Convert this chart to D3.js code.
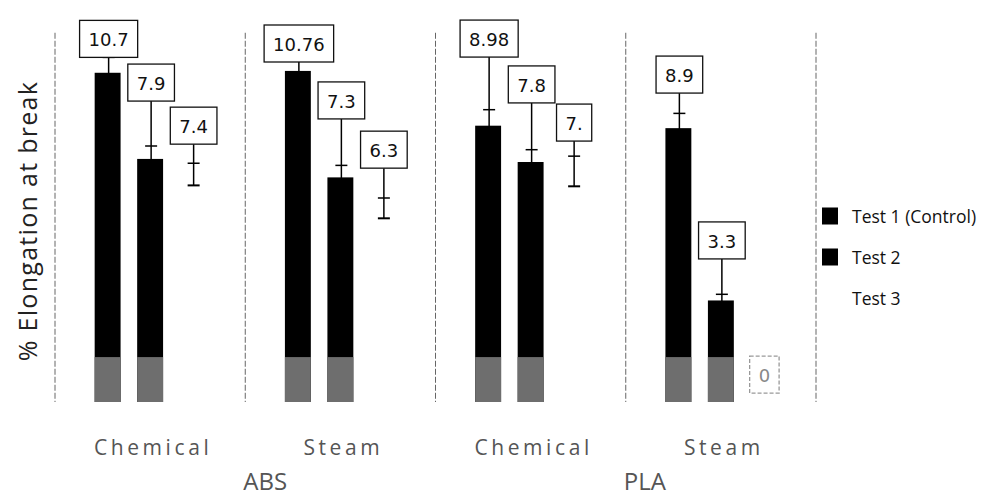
<!DOCTYPE html>
<html>
<head>
<meta charset="utf-8">
<script src="https://cdn.jsdelivr.net/npm/d3@7"></script>
<style>
  html, body { margin: 0; padding: 0; background: #fff; }
  svg { display: block; }
</style>
</head>
<body>
<svg id="chart" width="988" height="496"></svg>
<script>
// ---- data ----
const groups = ["ABS Chemical", "ABS Steam", "PLA Chemical", "PLA Steam"];
const categoryLabels = ["Chemical", "Steam", "Chemical", "Steam"];
const materials = ["ABS", "PLA"];
const materialStart = ["ABS Steam", "PLA Steam"];
const series = ["Test 1 (Control)", "Test 2", "Test 3"];

const test1 = [10.7, 10.76, 8.98, 8.9];
const test2 = [7.9, 7.3, 7.8, 3.3];
const test3 = [7.4, 6.3, 7.5, 0];

const err1 = [0.5, 0.45, 0.52, 0.48];
const err2 = [0.42, 0.39, 0.4, 0.2];
const err3 = [0.36, 0.33, 0.49, 0];

const label1 = ["10.7", "10.76", "8.98", "8.9"];
const label2 = ["7.9", "7.3", "7.8", "3.3"];
const label3 = ["7.4", "6.3", "7.", "0"];

// value-axis height at which each value box sits
const labelAt1 = [11.2, 11.05, 11.21, 10.04];
const labelAt2 = [9.78, 9.2, 9.72, 4.65];
const labelAt3 = [8.38, 7.6, 8.48, 0.29];

const baseBand = 1.46; // grey base portion of the bars (value units)

// ---- build table ----
const values = [test1, test2, test3];
const errs = [err1, err2, err3];
const labels = [label1, label2, label3];
const labelAts = [labelAt1, labelAt2, labelAt3];
const rows = [];
groups.forEach((g, gi) => {
  series.forEach((s, si) => {
    rows.push({ group: g, series: s, value: values[si][gi], err: errs[si][gi],
                label: labels[si][gi], labelAt: labelAts[si][gi] });
  });
});

const barColor = d3.scaleOrdinal().domain(series).range(["#000000", "#000000", "#ffffff"]);
const baseColor = d3.scaleOrdinal().domain(series).range(["#6e6e6e", "#6e6e6e", "#ffffff"]);

const svg = d3.select("#chart");

const x0 = d3.scaleBand().domain(groups).range([55, 816]).padding(0);
const half = 63.75;
const x1 = d3.scaleBand().domain(series)
  .range([x0.bandwidth() / 2 - half, x0.bandwidth() / 2 + half])
  .paddingInner(0.39).paddingOuter(0.195);
const y = d3.scaleLinear().domain([0, 13]).range([402, 2]);

// dividers
const divX = groups.map(g => x0(g)).concat([x0.range()[1]]);
svg.append("g").selectAll("line").data(divX).join("line")
  .attr("x1", d => d).attr("x2", d => d)
  .attr("y1", y(12.0)).attr("y2", y(0))
  .attr("stroke", "#666").attr("stroke-width", 1)
  .attr("stroke-dasharray", "6,2");

const cx = d => x0(d.group) + x1(d.series) + x1.bandwidth() / 2;

// bars
const gBars = svg.append("g");
gBars.selectAll("rect.bar").data(rows).join("rect").attr("class", "bar")
  .attr("x", d => x0(d.group) + x1(d.series))
  .attr("width", x1.bandwidth())
  .attr("y", d => y(d.value))
  .attr("height", d => y(0) - y(d.value))
  .attr("fill", d => barColor(d.series));
gBars.selectAll("rect.base").data(rows.filter(d => d.value > 0)).join("rect").attr("class", "base")
  .attr("x", d => x0(d.group) + x1(d.series))
  .attr("width", x1.bandwidth())
  .attr("y", d => y(Math.min(baseBand, d.value)))
  .attr("height", d => y(0) - y(Math.min(baseBand, d.value)))
  .attr("fill", d => baseColor(d.series));

// error bars + leader lines
const gErr = svg.append("g").attr("stroke", "#000").attr("stroke-width", 1.5);
const withErr = rows.filter(d => d.err > 0);
gErr.selectAll("line.v").data(withErr).join("line").attr("class", "v")
  .attr("x1", d => cx(d) + 1).attr("x2", d => cx(d) + 1)
  .attr("y1", d => y(d.labelAt)).attr("y2", d => y(d.value - d.err));
gErr.selectAll("line.cu").data(withErr).join("line").attr("class", "cu")
  .attr("x1", d => cx(d) - 5).attr("x2", d => cx(d) + 7)
  .attr("y1", d => y(d.value + d.err)).attr("y2", d => y(d.value + d.err));
gErr.selectAll("line.cl").data(withErr).join("line").attr("class", "cl")
  .attr("x1", d => cx(d) - 5).attr("x2", d => cx(d) + 7)
  .attr("y1", d => y(d.value - d.err)).attr("y2", d => y(d.value - d.err))
  .attr("stroke-width", 2);

// value boxes
const boxH = 37;
const gLab = svg.append("g");
const lab = gLab.selectAll("g").data(rows).join("g");
lab.append("rect").attr("class", "box");
lab.append("text")
  .attr("x", d => cx(d) + 1)
  .attr("y", d => y(d.labelAt) - boxH / 2 + 1)
  .attr("text-anchor", "middle")
  .attr("dominant-baseline", "central")
  .attr("font-family", "DejaVu Sans")
  .attr("font-size", 18)
  .attr("fill", d => d.value > 0 ? "#111" : "#888")
  .text(d => d.label);
lab.each(function(d) {
  const t = d3.select(this).select("text").node();
  const w = t.getComputedTextLength() + 18;
  d3.select(this).select("rect")
    .attr("x", cx(d) + 1 - w / 2)
    .attr("y", y(d.labelAt) - boxH)
    .attr("width", w).attr("height", boxH)
    .attr("fill", "#fff")
    .attr("stroke", d.value > 0 ? "#111" : "#999")
    .attr("stroke-width", 1.3)
    .attr("stroke-dasharray", d.value > 0 ? null : "4,2");
});

// category labels
svg.append("g").selectAll("text").data(groups).join("text")
  .attr("x", d => x0(d) + x0.bandwidth() / 2 + 3)
  .attr("y", 455)
  .attr("text-anchor", "middle")
  .attr("font-family", "Open Sans")
  .attr("font-size", 21)
  .attr("letter-spacing", 3.6)
  .attr("fill", "#555")
  .text((d, i) => categoryLabels[i]);

// material labels
svg.append("g").selectAll("text").data(materials).join("text")
  .attr("x", (d, i) => x0(materialStart[i]) - 2)
  .attr("y", 490)
  .attr("font-family", "Open Sans")
  .attr("font-size", 24)
  .attr("fill", "#555")
  .text(d => d);

// y title
svg.append("text")
  .attr("transform", "translate(27,221) rotate(-90)")
  .attr("text-anchor", "middle")
  .attr("dominant-baseline", "central")
  .attr("font-family", "Open Sans")
  .attr("font-size", 25)
  .attr("letter-spacing", 1.3)
  .attr("fill", "#222")
  .text("% Elongation at break");

// legend
const leg = svg.append("g").selectAll("g").data(series).join("g")
  .attr("transform", (d, i) => `translate(822, ${216 + i * 41})`);
leg.append("rect")
  .attr("x", 0).attr("y", -8.5).attr("width", 16).attr("height", 17)
  .attr("fill", d => barColor(d));
leg.append("text")
  .attr("x", 30).attr("y", 0)
  .attr("dominant-baseline", "central")
  .attr("font-family", "Open Sans")
  .attr("font-size", 17.5)
  .attr("fill", "#111")
  .text(d => d);
</script>
</body>
</html>
